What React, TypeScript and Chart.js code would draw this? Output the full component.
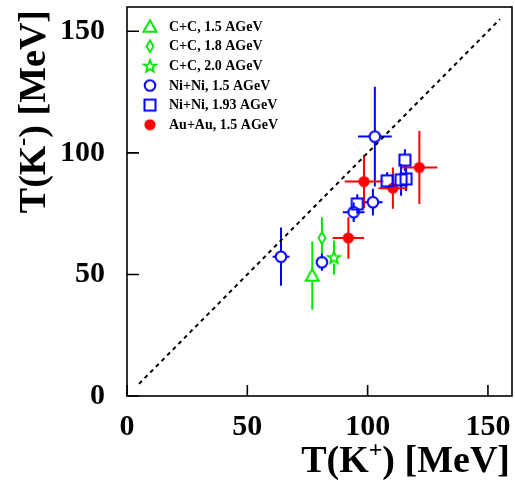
import React, { useEffect, useRef } from 'react';
import { Chart, registerables } from 'chart.js';

Chart.register(...registerables);

// ---- data ----
const seriesNames = [
  'C+C, 1.5 AGeV',
  'C+C, 1.8 AGeV',
  'C+C, 2.0 AGeV',
  'Ni+Ni, 1.5 AGeV',
  'Ni+Ni, 1.93 AGeV',
  'Au+Au, 1.5 AGeV',
];

const cc15X = [77];
const cc15Y = [49.5];
const cc15XErr = [2.5];
const cc15YErr = [14];

const cc18X = [81];
const cc18Y = [65];
const cc18XErr = [0];
const cc18YErr = [8.5];

const cc20X = [86];
const cc20Y = [57];
const cc20XErr = [2.5];
const cc20YErr = [7];

const nini15X = [64, 81, 94.2, 102.2, 103];
const nini15Y = [57.3, 55, 75.6, 79.7, 106.7];
const nini15XErr = [3.5, 1.5, 4.5, 4, 7];
const nini15YErr = [12, 3.5, 4, 5.5, 20.5];

const nini193X = [95.7, 108.1, 113.9, 116, 115.5];
const nini193Y = [79, 88.5, 88.9, 89.3, 97];
const nini193XErr = [2.5, 3, 2, 2, 2.5];
const nini193YErr = [4, 3.5, 6.5, 5, 4.5];

const auau15X = [92, 98.5, 110.5, 121.5];
const auau15Y = [65, 88.2, 85.5, 94];
const auau15XErr = [6.5, 8, 6, 7.5];
const auau15YErr = [8.5, 11, 8.5, 15];

const diagonalX = [5, 155];
const diagonalY = [5, 155];

const xTickValues = [0, 50, 100, 150];
const yTickValues = [0, 50, 100, 150];

// ---- styling ----
const GREEN = '#00e600';
const BLUE = '#0000ff';
const RED = '#ff0000';
const SERIF = '"Liberation Serif", "Times New Roman", serif';
const PLOT_RIGHT = 512;

type Kind = 'triangle' | 'diamond' | 'star' | 'circle' | 'square' | 'dot';

const series = [
  { name: seriesNames[0], xs: cc15X, ys: cc15Y, xe: cc15XErr, ye: cc15YErr, kind: 'triangle' as Kind, color: GREEN },
  { name: seriesNames[1], xs: cc18X, ys: cc18Y, xe: cc18XErr, ye: cc18YErr, kind: 'diamond' as Kind, color: GREEN },
  { name: seriesNames[2], xs: cc20X, ys: cc20Y, xe: cc20XErr, ye: cc20YErr, kind: 'star' as Kind, color: GREEN },
  { name: seriesNames[3], xs: nini15X, ys: nini15Y, xe: nini15XErr, ye: nini15YErr, kind: 'circle' as Kind, color: BLUE },
  { name: seriesNames[4], xs: nini193X, ys: nini193Y, xe: nini193XErr, ye: nini193YErr, kind: 'square' as Kind, color: BLUE },
  { name: seriesNames[5], xs: auau15X, ys: auau15Y, xe: auau15XErr, ye: auau15YErr, kind: 'dot' as Kind, color: RED },
];

const gaps: Record<Kind, [number, number]> = {
  triangle: [6.5, 6],
  diamond: [3.5, 6],
  star: [6, 6],
  circle: [5.3, 5.3],
  square: [5.5, 5.5],
  dot: [0, 0],
};

function makeMarker(kind: Kind, color: string): HTMLCanvasElement {
  const c = document.createElement('canvas');
  c.width = 18;
  c.height = 18;
  const g = c.getContext('2d')!;
  g.strokeStyle = color;
  g.fillStyle = color;
  g.lineWidth = 2;
  const cx = 9;
  const cy = 9;
  g.beginPath();
  switch (kind) {
    case 'triangle':
      g.moveTo(cx, cy - 6.5);
      g.lineTo(cx + 6.5, cy + 5);
      g.lineTo(cx - 6.5, cy + 5);
      g.closePath();
      g.stroke();
      break;
    case 'diamond':
      g.lineWidth = 1.8;
      g.moveTo(cx, cy - 6);
      g.lineTo(cx + 3.5, cy);
      g.lineTo(cx, cy + 6);
      g.lineTo(cx - 3.5, cy);
      g.closePath();
      g.stroke();
      break;
    case 'star':
      g.lineWidth = 1.8;
      for (let i = 0; i < 10; i++) {
        const r = i % 2 === 0 ? 6.5 : 2.7;
        const a = -Math.PI / 2 + (i * Math.PI) / 5;
        const px = cx + r * Math.cos(a);
        const py = cy + 0.5 + r * Math.sin(a);
        if (i === 0) g.moveTo(px, py);
        else g.lineTo(px, py);
      }
      g.closePath();
      g.stroke();
      break;
    case 'circle':
      g.arc(cx, cy, 5.3, 0, Math.PI * 2);
      g.stroke();
      break;
    case 'square':
      g.rect(cx - 5.5, cy - 5.5, 11, 11);
      g.stroke();
      break;
    case 'dot':
      g.arc(cx, cy, 5.6, 0, Math.PI * 2);
      g.fill();
      break;
  }
  return c;
}

export default function App() {
  const canvasRef = useRef<HTMLCanvasElement | null>(null);

  useEffect(() => {
    const canvas = canvasRef.current;
    if (!canvas) return;
    const markers = series.map((s) => makeMarker(s.kind, s.color));

    const fixArea = {
      id: 'fixArea',
      afterLayout(chart: any) {
        const xs = chart.scales.x;
        chart.chartArea.right = PLOT_RIGHT;
        chart.chartArea.width = PLOT_RIGHT - chart.chartArea.left;
        xs.right = PLOT_RIGHT;
        xs.width = PLOT_RIGHT - xs.left;
        xs.configure();
      },
    };

    const errorBars = {
      id: 'errorBars',
      beforeDatasetsDraw(chart: any) {
        const ctx = chart.ctx;
        const xs = chart.scales.x;
        const ys = chart.scales.y;
        ctx.save();
        ctx.lineWidth = 2;
        series.forEach((s) => {
          const [gx, gy] = gaps[s.kind];
          ctx.strokeStyle = s.color;
          s.xs.forEach((xv, i) => {
            const px = xs.getPixelForValue(xv);
            const py = ys.getPixelForValue(s.ys[i]);
            const top = ys.getPixelForValue(s.ys[i] + s.ye[i]);
            const bot = ys.getPixelForValue(s.ys[i] - s.ye[i]);
            const lft = xs.getPixelForValue(xv - s.xe[i]);
            const rgt = xs.getPixelForValue(xv + s.xe[i]);
            ctx.beginPath();
            if (py - top > gy) {
              ctx.moveTo(px, top);
              ctx.lineTo(px, py - gy);
              ctx.moveTo(px, py + gy);
              ctx.lineTo(px, bot);
            }
            if (px - lft > gx) {
              ctx.moveTo(lft, py);
              ctx.lineTo(px - gx, py);
              ctx.moveTo(px + gx, py);
              ctx.lineTo(rgt, py);
            }
            ctx.stroke();
          });
        });
        ctx.restore();
      },
    };

    const frame = {
      id: 'frame',
      afterDraw(chart: any) {
        const ctx = chart.ctx;
        const a = chart.chartArea;
        const xs = chart.scales.x;
        const ys = chart.scales.y;
        ctx.save();
        ctx.strokeStyle = '#000';
        ctx.lineWidth = 1.6;
        ctx.strokeRect(a.left, a.top, a.right - a.left, a.bottom - a.top);
        ctx.beginPath();
        yTickValues.forEach((v) => {
          const p = ys.getPixelForValue(v);
          ctx.moveTo(a.left, p);
          ctx.lineTo(a.left + 12, p);
        });
        xTickValues.forEach((v) => {
          const p = xs.getPixelForValue(v);
          ctx.moveTo(p, a.bottom);
          ctx.lineTo(p, a.bottom - 11);
        });
        ctx.stroke();

        // legend
        ctx.font = `bold 14px ${SERIF}`;
        ctx.fillStyle = '#000';
        ctx.textBaseline = 'middle';
        ctx.textAlign = 'left';
        series.forEach((s, i) => {
          const y = 26.7 + i * 19.6;
          const m = markers[i];
          ctx.drawImage(m, 150 - m.width / 2, y - m.height / 2);
          ctx.fillText(s.name, 169, y + 0.5);
        });

        // axis titles
        const big = `bold 38px ${SERIF}`;
        const sup = `bold 24px ${SERIF}`;
        const drawRich = (parts: { t: string; sup?: boolean }[], xRight: number, yBase: number) => {
          let w = 0;
          parts.forEach((p) => {
            ctx.font = p.sup ? sup : big;
            w += ctx.measureText(p.t).width;
          });
          let x = xRight - w;
          ctx.textAlign = 'left';
          ctx.textBaseline = 'alphabetic';
          parts.forEach((p) => {
            ctx.font = p.sup ? sup : big;
            ctx.fillText(p.t, x, p.sup ? yBase - 15 : yBase);
            x += ctx.measureText(p.t).width;
          });
        };
        drawRich([{ t: 'T(K' }, { t: '+', sup: true }, { t: ') [MeV]' }], 510, 472);
        ctx.save();
        ctx.translate(45, 10);
        ctx.rotate(-Math.PI / 2);
        drawRich([{ t: 'T(K' }, { t: '-', sup: true }, { t: ') [MeV]' }], 0, 0);
        ctx.restore();
        ctx.restore();
      },
    };

    const datasets: any[] = series.map((s, si) => ({
      label: s.name,
      data: s.xs.map((x, i) => ({ x, y: s.ys[i] })),
      pointStyle: markers[si],
      pointRadius: 6,
      borderColor: s.color,
      backgroundColor: s.color,
      showLine: false,
      order: 1,
    }));
    datasets.push({
      label: 'diagonal',
      data: diagonalX.map((x, i) => ({ x, y: diagonalY[i] })),
      showLine: true,
      borderColor: '#000',
      borderWidth: 2,
      borderDash: [4, 4],
      pointRadius: 0,
      fill: false,
      order: 10,
    });

    const tickFont = { family: SERIF, size: 30, weight: 'bold' as const };

    const chart = new Chart(canvas, {
      type: 'scatter',
      data: { datasets },
      options: {
        animation: false,
        responsive: false,
        events: [],
        layout: { padding: { top: 6, right: 3, left: 0, bottom: 0 } },
        plugins: { legend: { display: false }, tooltip: { enabled: false } },
        scales: {
          x: {
            type: 'linear',
            min: 0,
            max: 160,
            grid: { display: false, drawTicks: false },
            border: { display: false },
            ticks: {
              stepSize: 50,
              includeBounds: false,
              font: tickFont,
              color: '#000',
              padding: 13,
              maxRotation: 0,
            },
            afterFit: (scale: any) => {
              scale.height = 84;
              scale.paddingLeft = 0;
              scale.paddingRight = 0;
            },
          },
          y: {
            type: 'linear',
            min: 0,
            max: 160,
            grid: { display: false, drawTicks: false },
            border: { display: false },
            ticks: {
              stepSize: 50,
              includeBounds: false,
              font: tickFont,
              color: '#000',
              padding: 22,
            },
            afterFit: (scale: any) => {
              scale.width = 127;
              scale.paddingTop = 0;
              scale.paddingBottom = 0;
            },
          },
        },
      },
      plugins: [fixArea, errorBars, frame],
    });

    return () => chart.destroy();
  }, []);

  return (
    <div style={{ position: 'fixed', left: 0, top: 0, width: 515, height: 480, background: '#fff' }}>
      <canvas ref={canvasRef} width={515} height={480} style={{ display: 'block' }} />
    </div>
  );
}
